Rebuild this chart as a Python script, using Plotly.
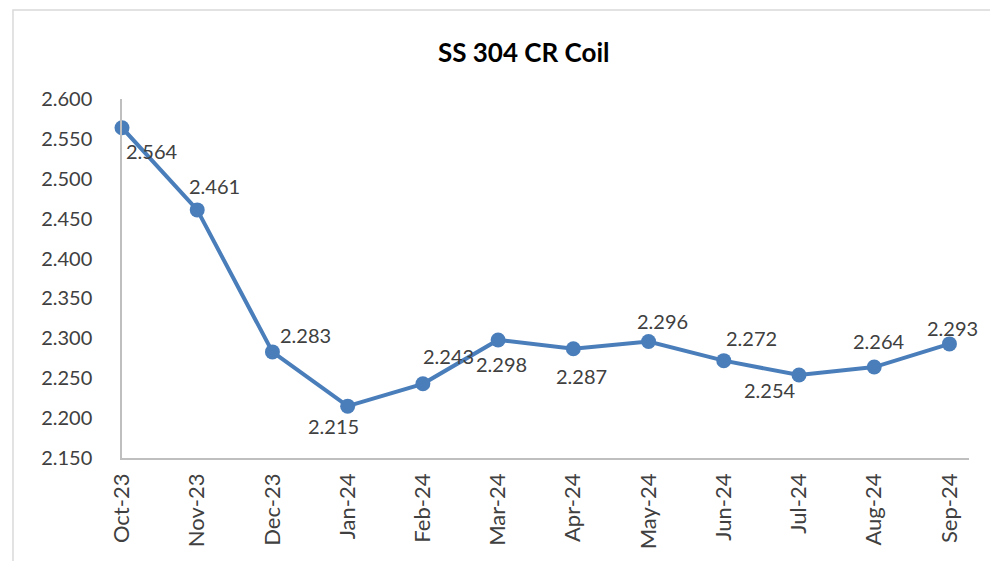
import plotly.graph_objects as go

months = ["Oct-23", "Nov-23", "Dec-23", "Jan-24", "Feb-24", "Mar-24",
          "Apr-24", "May-24", "Jun-24", "Jul-24", "Aug-24", "Sep-24"]
prices = [2.564, 2.461, 2.283, 2.215, 2.243, 2.298,
          2.287, 2.296, 2.272, 2.254, 2.264, 2.293]
y_ticks = [2.150, 2.200, 2.250, 2.300, 2.350, 2.400, 2.450, 2.500, 2.550, 2.600]

# label offsets in pixels (dx, dy up)
label_dx = [30, 17, 33, -14, 26, 3, 8, 14, 28, -29, 5, 3]
label_dy = [-23, 24, 17, -20, 28, -24, -27, 21, 23, -15, 26, 16]

FONT = "Lato"
TXT = "#404040"
BLUE = "#4A7EBB"

fig = go.Figure()
fig.add_trace(go.Scatter(
    x=months, y=prices, mode="lines+markers",
    line=dict(color=BLUE, width=4),
    marker=dict(color=BLUE, size=15),
    cliponaxis=False, showlegend=False, hoverinfo="x+y",
))

for m, v, dx, dy in zip(months, prices, label_dx, label_dy):
    fig.add_annotation(x=m, y=v, text=f"{v:.3f}", showarrow=False,
                       xshift=dx, yshift=dy,
                       font=dict(family=FONT, size=20, color=TXT))

fig.add_shape(type="rect", xref="paper", yref="paper",
              x0=-0.1287, x1=1.2, y0=-0.6, y1=1.248,
              line=dict(color="#D9D9D9", width=1.5), layer="below")

fig.update_layout(
    width=990, height=561,
    margin=dict(l=122, r=21, t=99, b=103),
    paper_bgcolor="white", plot_bgcolor="white",
    title=dict(text="<b>SS 304 CR Coil</b>", x=0.529, xanchor="center",
               y=0.9055, yanchor="middle",
               font=dict(family=FONT, size=26, color="#000000")),
    font=dict(family=FONT, size=20, color=TXT),
    xaxis=dict(type="category", range=[0, 11.26], showgrid=False,
               showline=True, linecolor="#BFBFBF", linewidth=1.5,
               ticks="", tickangle=-90, ticklabelstandoff=5,
               tickfont=dict(family=FONT, size=22, color=TXT), zeroline=False),
    yaxis=dict(range=[2.150, 2.600], tickvals=y_ticks, tickformat=".3f",
               showgrid=False, showline=True, linecolor="#BFBFBF", linewidth=1.5,
               ticks="", ticklabelstandoff=24, zeroline=False,
               tickfont=dict(family=FONT, size=20, color=TXT)),
)

fig.write_html("out.html", config={"displayModeBar": False},
               post_script="document.body.style.margin='0';document.body.style.overflow='hidden';")
